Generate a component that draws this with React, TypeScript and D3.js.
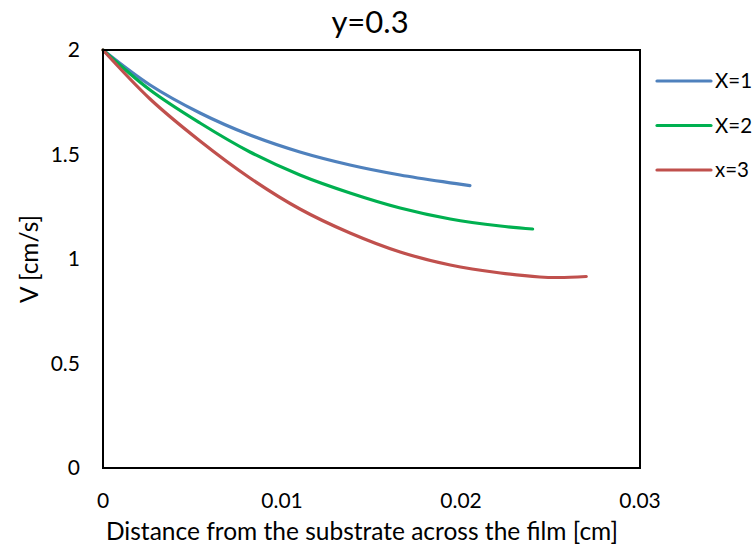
import React from "react";
import * as d3 from "d3";

const W = 754;
const H = 548;

const xTicks = [0, 0.01, 0.02, 0.03];
const yTicks = [0, 0.5, 1, 1.5, 2];
const seriesNames = ["X=1", "X=2", "x=3"];
const seriesColors = ["#4F81BD", "#00B050", "#C0504D"];

const x1 = [0, 0.00263, 0.00542, 0.00821, 0.011, 0.0138, 0.0166, 0.0194, 0.0205];
const v1 = [2, 1.8325, 1.6986, 1.5933, 1.512, 1.4498, 1.4019, 1.3646, 1.3512];

const x2 = [0, 0.00263, 0.00542, 0.00821, 0.011, 0.0138, 0.0166, 0.0194, 0.0222, 0.024];
const v2 = [2, 1.8086, 1.6507, 1.512, 1.4019, 1.3158, 1.244, 1.1914, 1.1579, 1.1435];

const x3 = [0, 0.00263, 0.00542, 0.00821, 0.011, 0.0138, 0.0166, 0.0194, 0.0222, 0.0244, 0.0255, 0.027];
const v3 = [2, 1.7656, 1.5646, 1.3876, 1.2392, 1.1244, 1.0335, 0.9713, 0.933, 0.9139, 0.9115, 0.9163];

const seriesX = [x1, x2, x3];
const seriesV = [v1, v2, v3];

const FONT = "Lato, 'Open Sans', sans-serif";

export default function App() {
  const left = 103, right = 640, top = 50, bottom = 468;
  const x = d3.scaleLinear().domain([0, 0.03]).range([left, right]);
  const y = d3.scaleLinear().domain([0, 2]).range([bottom, top]);
  const line = d3
    .line<[number, number]>()
    .x((d) => x(d[0]))
    .y((d) => y(d[1]))
    .curve(d3.curveCatmullRom.alpha(0.5));

  return (
    <svg
      width={W}
      height={H}
      style={{ position: "absolute", left: 0, top: 0, background: "#fff" }}
      fontFamily={FONT}
    >
      <rect x={0} y={0} width={W} height={H} fill="#fff" />
      <text x={370} y={33} textAnchor="middle" fontSize={31} fill="#000">
        y=0.3
      </text>
      {seriesX.map((xs, i) => (
        <path
          key={i}
          d={line(xs.map((xv, j) => [xv, seriesV[i][j]] as [number, number])) || ""}
          fill="none"
          stroke={seriesColors[i]}
          strokeWidth={3.2}
          strokeLinecap="round"
        />
      ))}
      <rect
        x={left}
        y={top}
        width={right - left}
        height={bottom - top}
        fill="none"
        stroke="#000"
        strokeWidth={2}
      />
      {yTicks.map((t) => (
        <text key={t} x={80} y={y(t)} dy="0.35em" textAnchor="end" fontSize={21} fill="#000">
          {t}
        </text>
      ))}
      {xTicks.map((t) => (
        <text key={t} x={x(t)} y={508} textAnchor="middle" fontSize={21} fill="#000">
          {t}
        </text>
      ))}
      <text x={362} y={540} textAnchor="middle" fontSize={24.5} fill="#000">
        Distance from the substrate across the film [cm]
      </text>
      <text
        transform={`translate(38,${(top + bottom) / 2}) rotate(-90)`}
        textAnchor="middle"
        fontSize={24.5}
        fill="#000"
      >
        V [cm/s]
      </text>
      {seriesNames.map((n, i) => (
        <g key={n} transform={`translate(0,${81 + i * 44.5})`}>
          <line x1={657} x2={711} y1={0} y2={0} stroke={seriesColors[i]} strokeWidth={3.2} strokeLinecap="round" />
          <text x={715} y={0} dy="0.35em" fontSize={20.5} fill="#000">
            {n}
          </text>
        </g>
      ))}
    </svg>
  );
}
